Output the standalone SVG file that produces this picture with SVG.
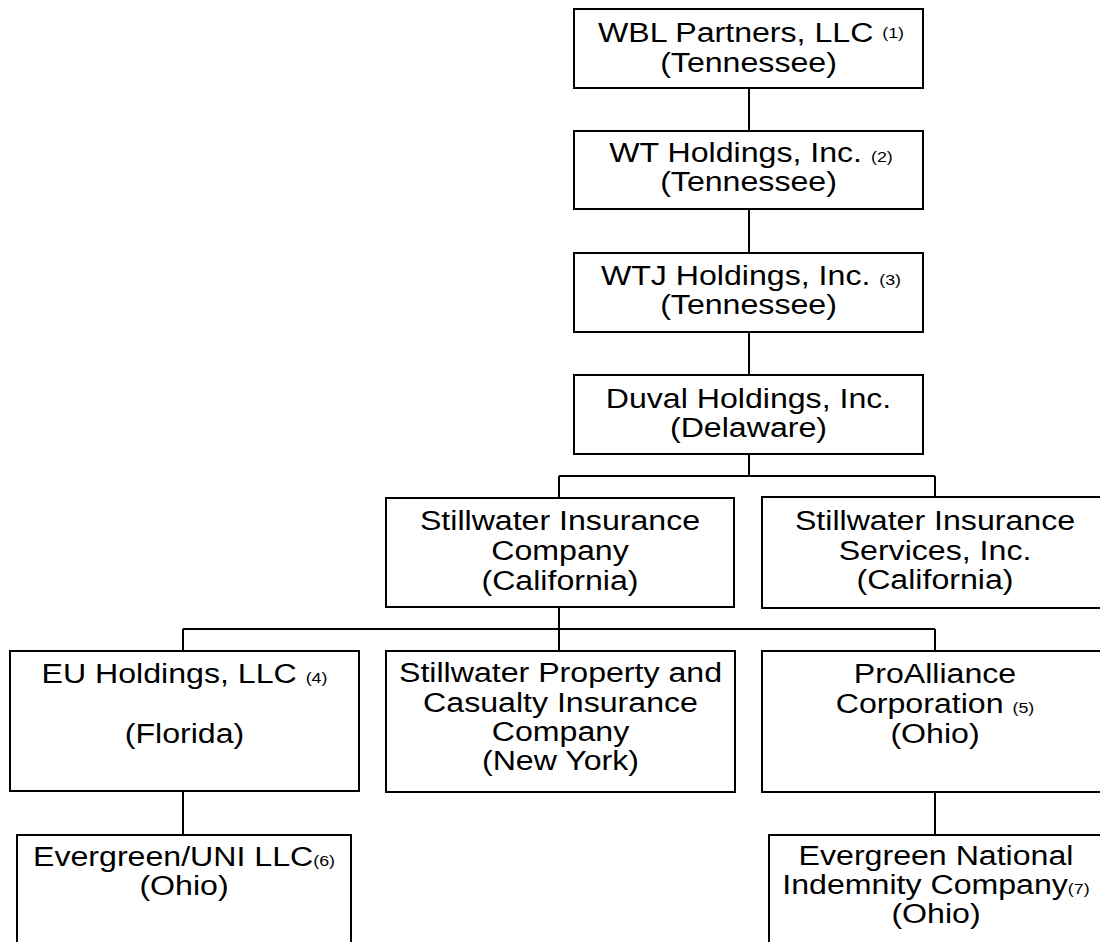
<svg xmlns="http://www.w3.org/2000/svg" width="1100" height="942" viewBox="0 0 1100 942">
<style>
.box{fill:#fff;stroke:#000;stroke-width:2}
.conn{fill:none;stroke:#000;stroke-width:2}
text{font-family:"Liberation Sans",Arial,sans-serif;font-size:27px;fill:#000;text-anchor:middle}
.sup{font-size:15px}
</style>
<rect width="1100" height="942" fill="#fff"/>
<g id="connectors">
<path class="conn" d="M749 88V131M749 209V253M749 332V375M749 454V476M559 476H935M559 476V498M935 476V497M559 607V629M183 629H935M183 629V651M559 629V651M935 629V651M183 791V835M935 792V835"/>
</g>
<g id="n1"><rect class="box" x="574" y="9" width="349" height="79"/>
<text transform="translate(751,42) scale(1.19,1)">WBL Partners, LLC <tspan class="sup" font-size="16" dy="-4">(1)</tspan></text>
<text transform="translate(748.5,72) scale(1.19,1)">(Tennessee)</text></g>
<g id="n2"><rect class="box" x="574" y="131" width="349" height="78"/>
<text transform="translate(751,162) scale(1.19,1)">WT Holdings, Inc. <tspan class="sup">(2)</tspan></text>
<text transform="translate(748.5,191) scale(1.19,1)">(Tennessee)</text></g>
<g id="n3"><rect class="box" x="574" y="253" width="349" height="79"/>
<text transform="translate(751,285) scale(1.19,1)">WTJ Holdings, Inc. <tspan class="sup">(3)</tspan></text>
<text transform="translate(748.5,314) scale(1.19,1)">(Tennessee)</text></g>
<g id="n4"><rect class="box" x="574" y="375" width="349" height="79"/>
<text transform="translate(748.5,408) scale(1.19,1)">Duval Holdings, Inc.</text>
<text transform="translate(748.5,437) scale(1.19,1)">(Delaware)</text></g>
<g id="n5"><rect class="box" x="386" y="498" width="348" height="109"/>
<text transform="translate(560,530) scale(1.19,1)">Stillwater Insurance</text>
<text transform="translate(560,560) scale(1.19,1)">Company</text>
<text transform="translate(560,590) scale(1.19,1)">(California)</text></g>
<g id="n6"><rect class="box" x="762" y="497" width="348" height="111"/>
<text transform="translate(935,530) scale(1.19,1)">Stillwater Insurance</text>
<text transform="translate(935,560) scale(1.19,1)">Services, Inc.</text>
<text transform="translate(935,589) scale(1.19,1)">(California)</text></g>
<g id="n7"><rect class="box" x="10" y="651" width="349" height="140"/>
<text transform="translate(184.5,683) scale(1.19,1)">EU Holdings, LLC <tspan class="sup">(4)</tspan></text>
<text transform="translate(184.5,743) scale(1.19,1)">(Florida)</text></g>
<g id="n8"><rect class="box" x="386" y="651" width="349" height="141"/>
<text transform="translate(560.5,682) scale(1.19,1)">Stillwater Property and</text>
<text transform="translate(560.5,712) scale(1.19,1)">Casualty Insurance</text>
<text transform="translate(560.5,741) scale(1.19,1)">Company</text>
<text transform="translate(560.5,770) scale(1.19,1)">(New York)</text></g>
<g id="n9"><rect class="box" x="762" y="651" width="348" height="141"/>
<text transform="translate(935,683) scale(1.19,1)">ProAlliance</text>
<text transform="translate(935,713) scale(1.19,1)">Corporation <tspan class="sup">(5)</tspan></text>
<text transform="translate(935,743) scale(1.19,1)">(Ohio)</text></g>
<g id="n10"><rect class="box" x="17" y="835" width="334" height="120"/>
<text transform="translate(184,866) scale(1.19,1)">Evergreen/UNI LLC<tspan class="sup">(6)</tspan></text>
<text transform="translate(184,895) scale(1.19,1)">(Ohio)</text></g>
<g id="n11"><rect class="box" x="769" y="835" width="334" height="120"/>
<text transform="translate(936,865) scale(1.19,1)">Evergreen National</text>
<text transform="translate(936,894) scale(1.19,1)">Indemnity Company<tspan class="sup">(7)</tspan></text>
<text transform="translate(936,923) scale(1.19,1)">(Ohio)</text></g>
</svg>
